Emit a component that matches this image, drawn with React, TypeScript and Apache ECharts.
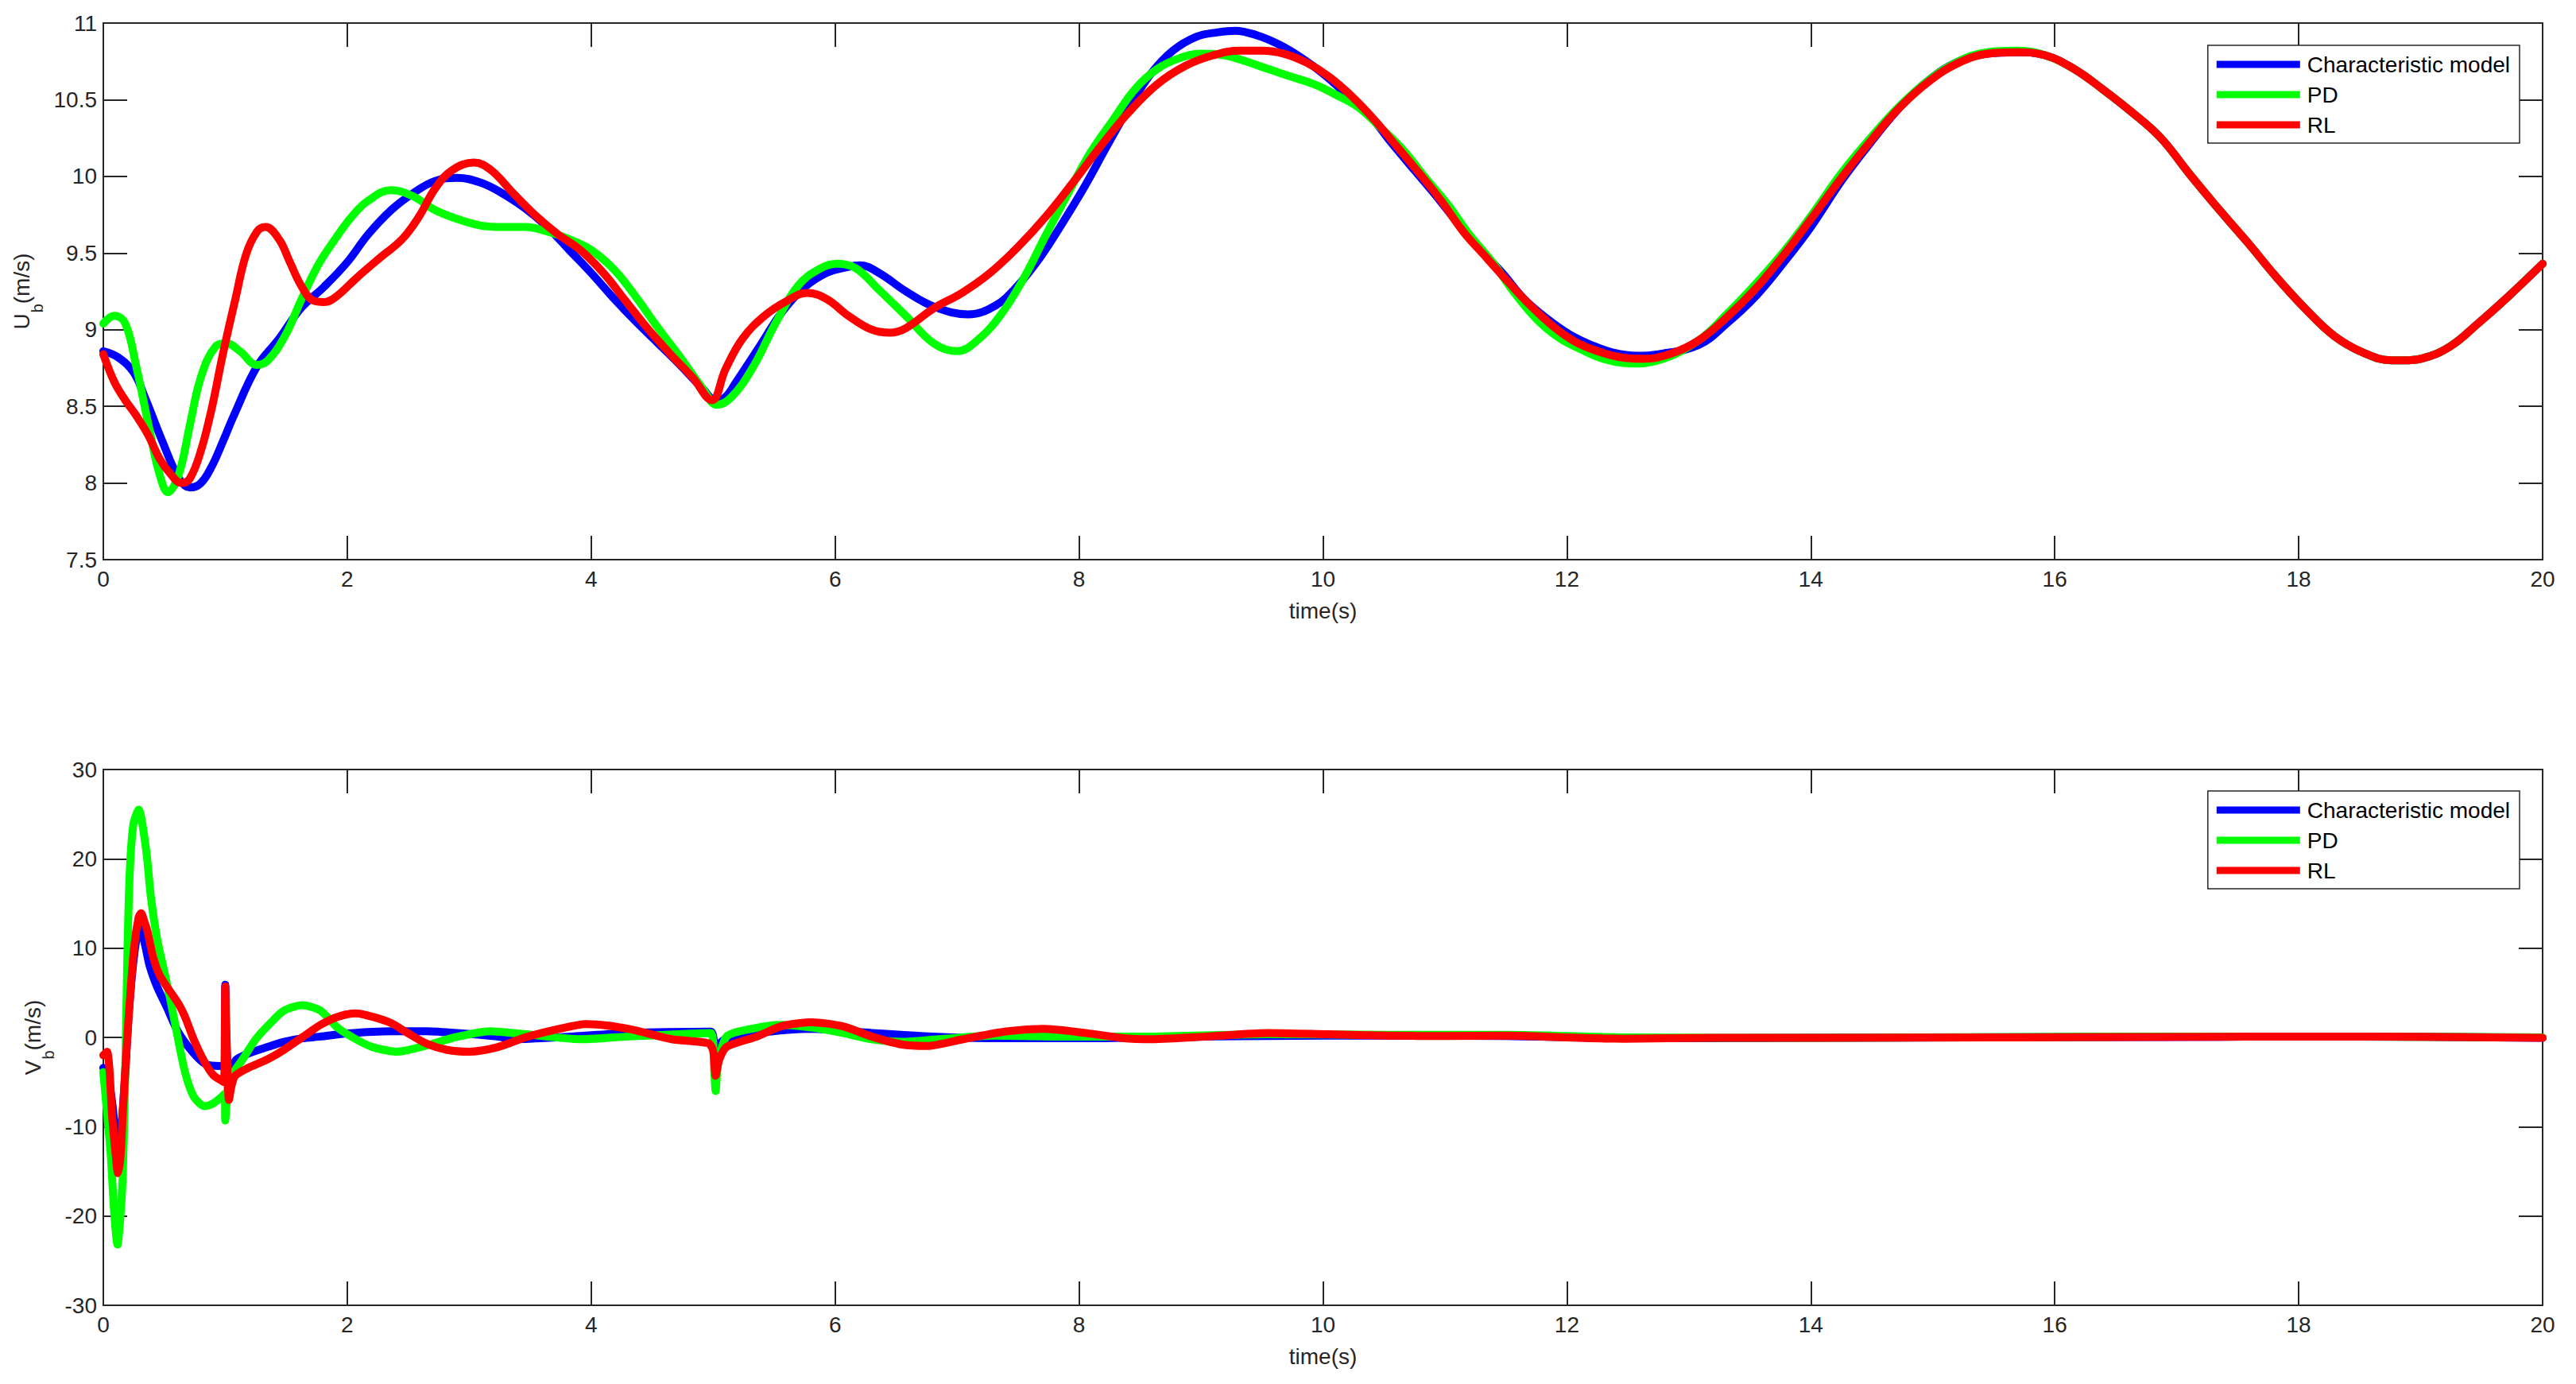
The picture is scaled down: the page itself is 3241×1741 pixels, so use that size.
import React, { useEffect, useRef } from 'react';
import * as echarts from 'echarts';

// ---------- Top plot: U_b (m/s) ----------
const ubTimeCM = [0, 0.12, 0.25, 0.34, 0.48, 0.62, 0.71, 0.8, 0.89, 0.98, 1.07, 1.26, 1.44, 1.62, 1.81, 2.0, 2.17, 2.36, 2.54, 2.72, 2.9, 3.09, 3.27, 3.46, 3.64, 3.82, 4.0, 4.19, 4.37, 4.55, 4.74, 4.92, 5.02, 5.1, 5.19, 5.38, 5.56, 5.74, 5.93, 6.11, 6.2, 6.36, 6.58, 6.81, 7.09, 7.32, 7.5, 7.68, 7.86, 8.05, 8.23, 8.41, 8.59, 8.77, 8.96, 9.14, 9.28, 9.46, 9.64, 9.83, 10.0, 10.2, 10.38, 10.56, 10.75, 10.93, 11.11, 11.29, 11.47, 11.65, 11.84, 12.02, 12.2, 12.38, 12.57, 12.75, 13.08, 13.31, 13.55, 13.79, 14.0, 14.26, 14.5, 14.73, 14.97, 15.21, 15.45, 15.68, 15.92, 16.16, 16.39, 16.63, 16.87, 17.1, 17.34, 17.58, 17.82, 18.05, 18.29, 18.53, 18.76, 18.86, 19.0, 19.24, 19.47, 19.71, 20.0];
const ubCM = [8.86, 8.82, 8.72, 8.56, 8.28, 8.03, 7.97, 8.0, 8.11, 8.27, 8.44, 8.76, 8.94, 9.14, 9.28, 9.44, 9.62, 9.78, 9.89, 9.97, 9.99, 9.96, 9.89, 9.79, 9.67, 9.52, 9.37, 9.2, 9.05, 8.91, 8.76, 8.61, 8.54, 8.56, 8.66, 8.89, 9.11, 9.27, 9.37, 9.41, 9.42, 9.37, 9.25, 9.15, 9.1, 9.16, 9.29, 9.47, 9.69, 9.94, 10.2, 10.45, 10.67, 10.82, 10.91, 10.94, 10.95, 10.92, 10.86, 10.77, 10.67, 10.53, 10.4, 10.22, 10.04, 9.87, 9.69, 9.52, 9.37, 9.2, 9.07, 8.97, 8.9, 8.85, 8.83, 8.84, 8.9, 9.04, 9.22, 9.45, 9.67, 9.98, 10.23, 10.45, 10.63, 10.75, 10.8, 10.81, 10.79, 10.7, 10.57, 10.42, 10.25, 10.02, 9.79, 9.57, 9.34, 9.14, 8.96, 8.85, 8.8, 8.8, 8.81, 8.89, 9.04, 9.21, 9.43];

const ubTimePD = [0, 0.09, 0.18, 0.27, 0.37, 0.46, 0.53, 0.62, 0.71, 0.8, 0.92, 1.01, 1.12, 1.26, 1.35, 1.49, 1.62, 1.76, 1.9, 2.04, 2.17, 2.36, 2.54, 2.72, 2.91, 3.09, 3.27, 3.46, 3.64, 3.82, 4.0, 4.19, 4.37, 4.55, 4.74, 4.92, 5.03, 5.15, 5.33, 5.51, 5.7, 5.88, 6.02, 6.17, 6.36, 6.58, 6.81, 7.0, 7.18, 7.37, 7.55, 7.73, 7.91, 8.09, 8.28, 8.46, 8.64, 8.82, 9.0, 9.19, 9.37, 9.55, 9.74, 9.93, 10.11, 10.29, 10.47, 10.66, 10.84, 11.02, 11.2, 11.39, 11.57, 11.75, 11.93, 12.12, 12.3, 12.53, 12.75, 13.08, 13.31, 13.55, 13.79, 14.0, 14.26, 14.5, 14.73, 14.97, 15.21, 15.45, 15.68, 15.92, 16.16, 16.39, 16.63, 16.87, 17.1, 17.34, 17.58, 17.82, 18.05, 18.29, 18.53, 18.76, 18.86, 19.0, 19.24, 19.47, 19.71, 20.0];
const ubPD = [9.04, 9.09, 9.04, 8.76, 8.38, 8.06, 7.94, 8.06, 8.38, 8.69, 8.89, 8.91, 8.86, 8.77, 8.8, 8.96, 9.19, 9.42, 9.59, 9.74, 9.84, 9.91, 9.87, 9.78, 9.72, 9.68, 9.67, 9.67, 9.64, 9.59, 9.52, 9.39, 9.21, 9.01, 8.81, 8.61, 8.51, 8.56, 8.76, 9.04, 9.29, 9.4, 9.43, 9.4, 9.26, 9.09, 8.91, 8.86, 8.94, 9.11, 9.34, 9.62, 9.89, 10.15, 10.37, 10.57, 10.7, 10.77, 10.8, 10.79, 10.75, 10.7, 10.65, 10.6, 10.53, 10.45, 10.32, 10.17, 9.99, 9.82, 9.62, 9.44, 9.24, 9.07, 8.95, 8.87, 8.81, 8.78, 8.8, 8.93, 9.1, 9.3, 9.52, 9.74, 10.03, 10.26, 10.46, 10.63, 10.75, 10.81, 10.82, 10.79, 10.7, 10.57, 10.42, 10.25, 10.02, 9.79, 9.57, 9.34, 9.14, 8.96, 8.85, 8.8, 8.8, 8.81, 8.89, 9.04, 9.21, 9.43];

const ubTimeRL = [0, 0.09, 0.18, 0.27, 0.37, 0.46, 0.55, 0.64, 0.71, 0.8, 0.89, 0.98, 1.08, 1.17, 1.26, 1.33, 1.44, 1.53, 1.62, 1.72, 1.81, 1.9, 2.08, 2.27, 2.45, 2.59, 2.72, 2.86, 3.04, 3.18, 3.36, 3.55, 3.73, 3.91, 4.1, 4.28, 4.46, 4.65, 4.83, 4.99, 5.1, 5.24, 5.42, 5.61, 5.77, 5.93, 6.11, 6.3, 6.45, 6.58, 6.81, 7.04, 7.27, 7.5, 7.73, 7.96, 8.18, 8.41, 8.64, 8.87, 9.1, 9.32, 9.5, 9.68, 9.87, 10.05, 10.24, 10.42, 10.6, 10.79, 10.97, 11.15, 11.34, 11.52, 11.71, 11.89, 12.07, 12.25, 12.44, 12.62, 12.84, 13.08, 13.31, 13.55, 13.79, 14.0, 14.26, 14.5, 14.73, 14.97, 15.21, 15.45, 15.68, 15.92, 16.16, 16.39, 16.63, 16.87, 17.1, 17.34, 17.58, 17.82, 18.05, 18.29, 18.53, 18.76, 18.86, 19.0, 19.24, 19.47, 19.71, 20.0];
const ubRL = [8.84, 8.66, 8.54, 8.44, 8.31, 8.16, 8.06, 8.0, 8.03, 8.21, 8.49, 8.84, 9.19, 9.49, 9.64, 9.67, 9.59, 9.44, 9.29, 9.19, 9.18, 9.21, 9.34, 9.47, 9.59, 9.74, 9.92, 10.04, 10.09, 10.04, 9.89, 9.74, 9.62, 9.52, 9.37, 9.19, 9.01, 8.84, 8.69, 8.54, 8.74, 8.94, 9.09, 9.19, 9.24, 9.2, 9.09, 9.0, 8.98, 9.01, 9.14, 9.24, 9.37, 9.54, 9.74, 9.97, 10.2, 10.42, 10.6, 10.72, 10.79, 10.82, 10.82, 10.8, 10.74, 10.65, 10.52, 10.37, 10.2, 10.02, 9.84, 9.64, 9.47, 9.31, 9.15, 9.02, 8.92, 8.86, 8.82, 8.81, 8.84, 8.93, 9.08, 9.27, 9.5, 9.72, 10.0, 10.24, 10.45, 10.62, 10.74, 10.8, 10.81, 10.79, 10.7, 10.57, 10.42, 10.25, 10.02, 9.79, 9.57, 9.34, 9.14, 8.96, 8.85, 8.8, 8.8, 8.81, 8.89, 9.04, 9.21, 9.43];

// ---------- Bottom plot: V_b (m/s) ----------
const vbTimeCM = [0, 0.06, 0.1, 0.13, 0.17, 0.21, 0.26, 0.3, 0.34, 0.38, 0.44, 0.52, 0.61, 0.73, 0.84, 0.96, 0.995, 1.0, 1.008, 1.03, 1.09, 1.19, 1.34, 1.48, 1.63, 1.78, 2.0, 2.36, 2.65, 2.94, 3.23, 3.36, 3.72, 4.31, 4.98, 5.02, 5.11, 5.46, 5.81, 6.3, 6.8, 7.3, 8.05, 9.05, 10.0, 11.5, 12.5, 14.0, 16.6, 18.5, 20.0];
const vbCM = [-3.4, -6.1, -10.5, -12.0, -6.0, 3.0, 10.0, 12.5, 10.5, 8.0, 5.7, 3.4, 0.7, -1.6, -3.0, -3.2, -3.2, 5.9, 0.0, -3.9, -2.5, -1.8, -1.1, -0.5, -0.1, 0.1, 0.45, 0.7, 0.7, 0.45, 0.1, -0.2, 0.0, 0.5, 0.65, -1.0, -0.1, 0.65, 0.95, 0.5, 0.1, -0.1, -0.1, 0.1, 0.2, 0.15, -0.1, -0.05, 0.05, 0.1, -0.05];

const vbTimePD = [0, 0.03, 0.06, 0.09, 0.116, 0.14, 0.16, 0.18, 0.198, 0.218, 0.247, 0.29, 0.35, 0.39, 0.44, 0.49, 0.55, 0.6, 0.67, 0.74, 0.83, 0.9, 0.975, 0.995, 1.0, 1.01, 1.03, 1.14, 1.25, 1.37, 1.48, 1.63, 1.78, 1.92, 2.07, 2.21, 2.41, 2.65, 2.88, 3.17, 3.46, 3.91, 4.31, 4.71, 4.98, 5.01, 5.02, 5.04, 5.11, 5.31, 5.56, 5.81, 6.06, 6.3, 6.55, 6.85, 7.3, 7.8, 8.55, 9.55, 10.5, 11.5, 12.5, 14.0, 16.6, 18.5, 20.0];
const vbPD = [-3.9, -8.4, -13.0, -19.8, -23.2, -20.0, -15.2, -3.9, 9.8, 18.9, 23.9, 25.5, 21.1, 15.7, 11.1, 7.95, 4.2, 0.7, -3.9, -6.6, -7.7, -7.4, -6.6, -6.3, -9.3, -7.5, -4.8, -2.5, -0.2, 1.6, 3.0, 3.6, 3.0, 1.1, -0.2, -1.1, -1.6, -0.9, 0.0, 0.7, 0.35, -0.2, 0.1, 0.35, 0.5, -4.0, -6.0, -3.0, 0.1, 0.95, 1.4, 1.1, 0.5, -0.2, -0.5, -0.2, 0.2, 0.1, 0.1, 0.35, 0.3, 0.3, 0.0, -0.05, 0.1, 0.1, 0.0];

const vbTimeRL = [0, 0.03, 0.05, 0.07, 0.1, 0.12, 0.14, 0.16, 0.2, 0.25, 0.29, 0.31, 0.34, 0.36, 0.41, 0.46, 0.52, 0.61, 0.67, 0.74, 0.82, 0.9, 0.975, 0.99, 1.0, 1.01, 1.03, 1.05, 1.08, 1.19, 1.34, 1.48, 1.63, 1.78, 1.92, 2.07, 2.21, 2.36, 2.5, 2.65, 2.82, 3.0, 3.23, 3.46, 3.72, 3.96, 4.31, 4.66, 4.96, 5.0, 5.02, 5.05, 5.11, 5.36, 5.56, 5.81, 6.06, 6.3, 6.55, 6.75, 7.05, 7.4, 7.7, 8.05, 8.35, 8.6, 9.05, 9.55, 10.04, 10.54, 11.0, 11.5, 12.0, 12.47, 13.2, 14.07, 15.5, 16.63, 18.55, 20.0];
const vbRL = [-2.0, -1.6, -3.5, -8.4, -13.0, -15.2, -13.5, -8.4, 0.7, 9.8, 13.5, 13.9, 12.8, 12.0, 8.9, 7.0, 5.7, 3.9, 2.3, -0.2, -2.5, -4.2, -4.9, -5.0, 5.7, 0.0, -7.0, -5.5, -4.3, -3.4, -2.5, -1.4, 0.0, 1.4, 2.3, 2.7, 2.3, 1.6, 0.45, -0.7, -1.4, -1.6, -1.1, 0.0, 0.9, 1.5, 0.95, -0.2, -0.65, -1.5, -4.3, -2.5, -1.07, 0.1, 1.25, 1.7, 1.25, 0.1, -0.8, -0.95, -0.2, 0.67, 0.95, 0.5, -0.06, -0.2, 0.1, 0.5, 0.35, 0.2, 0.15, 0.2, 0.0, -0.15, -0.05, -0.05, 0.0, 0.05, 0.1, -0.05];

// ---------- Axes / labels ----------
const seriesNames = ['Characteristic model', 'PD', 'RL'];
const seriesColors = ['#0000ff', '#00ff00', '#ff0000'];
const timeTicks = { min: 0, max: 20, interval: 2 };
const ubTicks = { min: 7.5, max: 11, interval: 0.5 };
const vbTicks = { min: -30, max: 30, interval: 10 };
const xAxisTitle = 'time(s)';
const ubTitle = { main: 'U', sub: 'b', unit: '(m/s)' };
const vbTitle = { main: 'V', sub: 'b', unit: '(m/s)' };

const FONT = '"Liberation Sans", Arial, Helvetica, sans-serif';
const AXIS_COLOR = '#262626';

function pairs(t: number[], v: number[]) {
  return t.map((x, i) => [x, v[i]]);
}

function buildOption() {
  const grids = [
    { left: 130, top: 29, width: 3069, height: 675 },
    { left: 130, top: 968, width: 3069, height: 674 },
  ];
  const lineStyleAxis = { color: AXIS_COLOR, width: 2 };
  const tickStyle = { show: true, inside: true, length: 30, lineStyle: { color: AXIS_COLOR, width: 2 } };
  const labelStyle = { color: AXIS_COLOR, fontSize: 28, fontFamily: FONT };

  const xAxes: any[] = [];
  const yAxes: any[] = [];
  [0, 1].forEach((g) => {
    xAxes.push({
      type: 'value', gridIndex: g, position: 'bottom', ...timeTicks,
      axisLine: { show: true, onZero: false, lineStyle: lineStyleAxis },
      axisTick: tickStyle,
      axisLabel: { ...labelStyle, margin: 10 },
      splitLine: { show: false },
      name: xAxisTitle, nameLocation: 'middle', nameGap: 50,
      nameTextStyle: { ...labelStyle },
    });
    xAxes.push({
      type: 'value', gridIndex: g, position: 'top', ...timeTicks,
      axisLine: { show: true, onZero: false, lineStyle: lineStyleAxis },
      axisTick: tickStyle,
      axisLabel: { show: false },
      splitLine: { show: false },
    });
    const ticks = g === 0 ? ubTicks : vbTicks;
    const title = g === 0 ? ubTitle : vbTitle;
    yAxes.push({
      type: 'value', gridIndex: g, position: 'left', ...ticks,
      axisLine: { show: true, onZero: false, lineStyle: lineStyleAxis },
      axisTick: tickStyle,
      axisLabel: { ...labelStyle, margin: 8 },
      splitLine: { show: false },
      name: `{m|${title.main}}{s|${title.sub}}{m|${title.unit}}`,
      nameLocation: 'middle', nameGap: 68,
      nameTextStyle: {
        ...labelStyle,
        rich: {
          m: { fontSize: 28, fontFamily: FONT, color: AXIS_COLOR, lineHeight: 28, verticalAlign: 'top' },
          s: { fontSize: 20, fontFamily: FONT, color: AXIS_COLOR, lineHeight: 20, verticalAlign: 'top', padding: [23, 0, 0, 1] },
        },
      },
    });
    yAxes.push({
      type: 'value', gridIndex: g, position: 'right', ...ticks,
      axisLine: { show: true, onZero: false, lineStyle: lineStyleAxis },
      axisTick: tickStyle,
      axisLabel: { show: false },
      splitLine: { show: false },
    });
  });

  const topData = [pairs(ubTimeCM, ubCM), pairs(ubTimePD, ubPD), pairs(ubTimeRL, ubRL)];
  const botData = [pairs(vbTimeCM, vbCM), pairs(vbTimePD, vbPD), pairs(vbTimeRL, vbRL)];

  const series: any[] = [];
  [topData, botData].forEach((set, g) => {
    set.forEach((data, i) => {
      series.push({
        type: 'line',
        name: seriesNames[i],
        xAxisIndex: g * 2,
        yAxisIndex: g * 2,
        data,
        color: seriesColors[i],
        showSymbol: false,
        symbol: 'none',
        smooth: g === 0 ? 0.4 : 0.25,
        lineStyle: { color: seriesColors[i], width: 10, cap: 'round', join: 'round' },
        z: 2 + i,
        emphasis: { disabled: true },
      });
    });
  });

  const legendBase = {
    orient: 'vertical',
    right: 71,
    data: seriesNames,
    icon: 'rect',
    itemWidth: 105,
    itemHeight: 9,
    itemGap: 10,
    padding: [10, 12, 9, 11],
    backgroundColor: '#ffffff',
    borderColor: AXIS_COLOR,
    borderWidth: 1.5,
    borderRadius: 0,
    selectedMode: false,
    textStyle: { fontSize: 28, fontFamily: FONT, color: '#000000', lineHeight: 28, padding: [0, 0, 0, 4] },
    z: 10,
  };

  return {
    animation: false,
    backgroundColor: '#ffffff',
    grid: grids,
    xAxis: xAxes,
    yAxis: yAxes,
    legend: [
      { ...legendBase, top: 57 },
      { ...legendBase, top: 995 },
    ],
    series,
  };
}

export default function App() {
  const ref = useRef<HTMLDivElement>(null);
  useEffect(() => {
    document.body.style.margin = '0';
    document.body.style.overflow = 'hidden';
    const chart = echarts.init(ref.current!, null, { renderer: 'svg' });
    chart.setOption(buildOption() as any);
    return () => chart.dispose();
  }, []);
  return <div ref={ref} style={{ width: 3241, height: 1741, background: '#fff' }} />;
}
